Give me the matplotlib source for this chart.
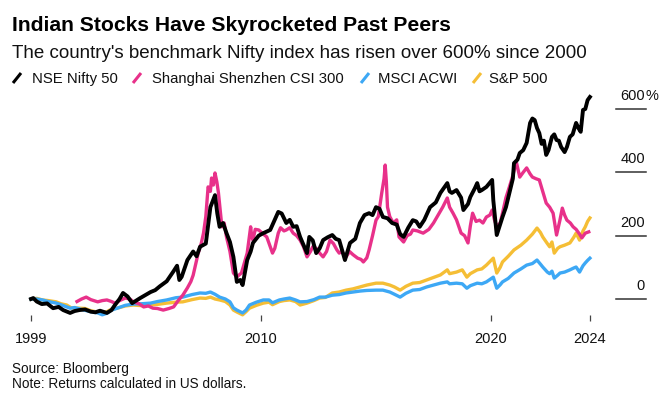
import matplotlib
matplotlib.use("Agg")
import matplotlib.pyplot as plt
from matplotlib.lines import Line2D
from matplotlib.transforms import blended_transform_factory

plt.rcParams['font.family'] = ['Liberation Sans', 'DejaVu Sans']

# ---------------- data (decimal years, % return since end-1999) ----------------
nifty_years = [2000.0, 2000.1, 2000.25, 2000.47, 2000.7, 2000.96, 2001.2, 2001.4, 2001.7, 2001.9,
               2002.1, 2002.35, 2002.6, 2002.8, 2003.0, 2003.3, 2003.5, 2003.65, 2003.85, 2004.0,
               2004.2, 2004.4, 2004.75, 2005.2, 2005.4, 2005.6, 2005.9, 2006.2, 2006.35, 2006.45,
               2006.55, 2006.8, 2007.05, 2007.2, 2007.35, 2007.6, 2007.8, 2008.0, 2008.1, 2008.2,
               2008.35, 2008.5, 2008.65, 2008.8, 2008.95, 2009.1, 2009.2, 2009.4, 2009.55, 2009.65,
               2009.9, 2010.1, 2010.4, 2010.75, 2010.9, 2011.1, 2011.25, 2011.4, 2011.55, 2011.7,
               2012.0, 2012.1, 2012.25, 2012.4, 2012.55, 2012.7, 2012.9, 2013.1, 2013.25, 2013.4,
               2013.65, 2013.87, 2014.1, 2014.3, 2014.5, 2014.7, 2014.85, 2015.0, 2015.15, 2015.3,
               2015.5, 2015.7, 2015.9, 2016.05, 2016.2, 2016.4, 2016.6, 2016.75, 2016.9, 2017.1,
               2017.35, 2017.6, 2017.8, 2018.1, 2018.2, 2018.3, 2018.5, 2018.7, 2018.8, 2019.0,
               2019.1, 2019.3, 2019.4, 2019.5, 2019.6, 2019.8, 2020.05, 2020.1, 2020.25, 2020.35,
               2020.5, 2020.65, 2020.8, 2020.95, 2021.0, 2021.15, 2021.25, 2021.4, 2021.55, 2021.7,
               2021.8, 2021.9, 2022.0, 2022.1, 2022.2, 2022.3, 2022.4, 2022.5, 2022.65, 2022.75,
               2022.85, 2022.95, 2023.05, 2023.2, 2023.3, 2023.43, 2023.55, 2023.7, 2023.8, 2023.9,
               2024.0, 2024.1, 2024.2, 2024.3]
nifty_values = [0, 3, -8, -16, -14, -29, -25, -35, -44, -38,
                -35, -33, -40, -42, -37, -44, -35, -19, 0, 19,
                8, -13, 3, 22, 28, 40, 56, 88, 105, 60,
                70, 123, 150, 135, 165, 175, 290, 328, 270, 228,
                240, 208, 180, 133, 54, 60, 44, 123, 150, 177,
                200, 208, 218, 275, 270, 240, 250, 228, 230, 196,
                145, 196, 185, 145, 160, 186, 195, 202, 190, 186,
                123, 177, 190, 240, 265, 271, 265, 290, 285, 259,
                255, 240, 235, 205, 196, 225, 249, 245, 228, 250,
                290, 305, 335, 366, 340, 335, 344, 320, 281, 300,
                322, 350, 366, 340, 344, 354, 376, 312, 202, 225,
                259, 290, 335, 380, 429, 440, 461, 470, 493, 556,
                570, 565, 540, 524, 490, 500, 455, 470, 512, 520,
                502, 500, 480, 464, 480, 512, 520, 556, 540, 528,
                597, 600, 628, 638]

csi_years = [2002.0, 2002.2, 2002.4, 2002.6, 2002.9, 2003.1, 2003.3, 2003.5, 2003.65, 2003.85,
             2004.1, 2004.3, 2004.45, 2004.7, 2004.9, 2005.1, 2005.3, 2005.5, 2005.75, 2006.0,
             2006.2, 2006.4, 2006.6, 2006.8, 2006.95, 2007.05, 2007.27, 2007.4, 2007.5, 2007.6,
             2007.7, 2007.8, 2007.85, 2007.93, 2008.0, 2008.08, 2008.15, 2008.3, 2008.4, 2008.5,
             2008.65, 2008.8, 2008.95, 2009.15, 2009.3, 2009.4, 2009.55, 2009.6, 2009.65, 2009.75,
             2009.9, 2010.1, 2010.25, 2010.4, 2010.5, 2010.6, 2010.75, 2010.85, 2011.0, 2011.1,
             2011.25, 2011.4, 2011.55, 2011.7, 2011.85, 2012.0, 2012.15, 2012.25, 2012.4, 2012.55,
             2012.7, 2012.85, 2013.0, 2013.15, 2013.3, 2013.4, 2013.5, 2013.7, 2013.85, 2014.0,
             2014.2, 2014.35, 2014.45, 2014.6, 2014.7, 2014.85, 2015.0, 2015.1, 2015.25, 2015.35,
             2015.4, 2015.45, 2015.5, 2015.6, 2015.75, 2015.9, 2016.0, 2016.2, 2016.35, 2016.5,
             2016.6, 2016.8, 2017.05, 2017.3, 2017.5, 2017.7, 2017.9, 2018.1, 2018.2, 2018.35,
             2018.5, 2018.7, 2018.85, 2019.0, 2019.1, 2019.2, 2019.35, 2019.5, 2019.65, 2019.8,
             2019.95, 2020.05, 2020.15, 2020.25, 2020.4, 2020.5, 2020.65, 2020.8, 2020.95, 2021.1,
             2021.25, 2021.4, 2021.55, 2021.7, 2021.8, 2021.95, 2022.1, 2022.25, 2022.4, 2022.55,
             2022.7, 2022.85, 2023.0, 2023.1, 2023.2, 2023.3, 2023.45, 2023.57, 2023.7, 2023.85,
             2023.95, 2024.1, 2024.25]
csi_values = [-8, 0, 6, -2, -9, -5, -3, -8, -13, -5,
              3, 0, -9, -15, -25, -22, -29, -30, -35, -30,
              -25, -5, 12, 35, 55, 75, 145, 175, 208, 260,
              354, 340, 382, 360, 398, 370, 335, 228, 240, 196,
              150, 82, 70, 82, 120, 145, 228, 195, 186, 220,
              218, 205, 196, 165, 145, 160, 208, 225, 215, 218,
              225, 208, 200, 186, 165, 133, 150, 165, 160, 145,
              133, 150, 186, 175, 155, 145, 150, 133, 150, 140,
              129, 125, 117, 130, 155, 200, 249, 260, 335, 380,
              423, 370, 290, 260, 240, 250, 196, 180, 200, 205,
              218, 215, 208, 220, 240, 265, 290, 319, 290, 271,
              250, 208, 200, 177, 230, 271, 245, 249, 240, 259,
              265, 281, 250, 228, 240, 271, 320, 354, 390, 433,
              385, 400, 414, 395, 385, 380, 376, 340, 303, 290,
              271, 202, 250, 287, 265, 249, 240, 228, 220, 205,
              193, 208, 212]

spx_years = [2000.0, 2000.25, 2000.5, 2000.75, 2001.1, 2001.3, 2001.55, 2001.75, 2002.1, 2002.35,
             2002.6, 2002.8, 2003.1, 2003.3, 2003.5, 2003.75, 2004.1, 2004.45, 2004.8, 2005.2,
             2005.5, 2005.9, 2006.3, 2006.6, 2007.0, 2007.35, 2007.6, 2007.8, 2008.0, 2008.2,
             2008.45, 2008.65, 2008.8, 2008.95, 2009.2, 2009.35, 2009.5, 2009.8, 2010.1, 2010.35,
             2010.5, 2010.8, 2011.0, 2011.25, 2011.5, 2011.7, 2012.0, 2012.3, 2012.55, 2012.8,
             2013.1, 2013.4, 2013.7, 2014.0, 2014.3, 2014.6, 2015.0, 2015.3, 2015.6, 2015.8,
             2016.05, 2016.3, 2016.6, 2016.9, 2017.2, 2017.5, 2017.8, 2018.1, 2018.2, 2018.5,
             2018.75, 2018.95, 2019.1, 2019.4, 2019.6, 2019.8, 2020.1, 2020.25, 2020.4, 2020.5,
             2020.75, 2021.0, 2021.3, 2021.55, 2021.8, 2022.0, 2022.15, 2022.25, 2022.45, 2022.55,
             2022.65, 2022.75, 2022.9, 2023.0, 2023.2, 2023.43, 2023.6, 2023.7, 2023.85, 2024.0,
             2024.1, 2024.2, 2024.3]
spx_values = [0, 2, -3, -5, -9, -15, -19, -28, -29, -30,
              -37, -40, -44, -40, -32, -29, -22, -19, -21, -19,
              -17, -13, -10, -9, -2, 3, 2, 6, 0, -3,
              -8, -19, -35, -41, -50, -40, -29, -20, -13, -10,
              -18, -8, -5, -3, -8, -19, -13, -5, 3, 5,
              19, 22, 28, 32, 38, 44, 50, 50, 44, 38,
              28, 40, 50, 52, 60, 68, 76, 92, 80, 85,
              92, 69, 80, 92, 95, 107, 129, 82, 100, 117,
              135, 155, 170, 186, 205, 224, 210, 196, 175, 165,
              180, 145, 160, 165, 170, 177, 195, 208, 186, 215,
              228, 245, 256]

acwi_years = [2000.0, 2000.25, 2000.5, 2000.75, 2001.1, 2001.3, 2001.7, 2001.9, 2002.3, 2002.6,
              2002.9, 2003.1, 2003.3, 2003.5, 2003.75, 2004.1, 2004.45, 2004.8, 2005.2, 2005.5,
              2005.9, 2006.3, 2006.6, 2007.0, 2007.35, 2007.6, 2007.8, 2008.0, 2008.2, 2008.45,
              2008.65, 2008.8, 2008.95, 2009.2, 2009.35, 2009.5, 2009.8, 2010.1, 2010.35, 2010.5,
              2010.8, 2011.0, 2011.25, 2011.5, 2011.7, 2012.0, 2012.3, 2012.55, 2012.8, 2013.1,
              2013.4, 2013.7, 2014.0, 2014.3, 2014.6, 2015.0, 2015.3, 2015.6, 2015.8, 2016.05,
              2016.3, 2016.6, 2016.9, 2017.2, 2017.5, 2017.8, 2018.1, 2018.2, 2018.5, 2018.75,
              2018.95, 2019.1, 2019.4, 2019.6, 2019.8, 2020.1, 2020.25, 2020.4, 2020.5, 2020.75,
              2021.0, 2021.3, 2021.55, 2021.8, 2022.0, 2022.15, 2022.25, 2022.45, 2022.55, 2022.65,
              2022.75, 2022.9, 2023.0, 2023.2, 2023.43, 2023.6, 2023.7, 2023.85, 2024.0, 2024.1,
              2024.2, 2024.3]
acwi_values = [0, 0, -3, -8, -13, -18, -29, -27, -35, -40,
               -44, -50, -45, -35, -29, -20, -16, -15, -13, -8,
               -3, 4, 6, 14, 19, 18, 22, 15, 6, 0,
               -9, -28, -35, -44, -35, -19, -10, -3, -3, -12,
               -3, 0, 3, -3, -9, -8, -2, 6, 6, 12,
               14, 19, 22, 25, 27, 28, 28, 22, 15, 6,
               18, 28, 30, 38, 44, 50, 54, 48, 50, 48,
               34, 42, 50, 48, 54, 69, 34, 45, 54, 65,
               82, 95, 107, 112, 123, 110, 101, 85, 80, 88,
               66, 75, 82, 85, 92, 98, 101, 85, 105, 114,
               122, 129]

series_names = ["NSE Nifty 50", "Shanghai Shenzhen CSI 300", "MSCI ACWI", "S&P 500"]
series_colors = ["#000000", "#E8318A", "#3DA8F5", "#F5BE35"]

xtick_positions = [2000.0, 2010.0, 2020.0, 2024.3]
xtick_labels = ["1999", "2010", "2020", "2024"]
ytick_values = [0, 200, 400, 600]
ytick_labels = ["0", "200", "400", "600"]

title = "Indian Stocks Have Skyrocketed Past Peers"
subtitle = "The country's benchmark Nifty index has risen over 600% since 2000"
footer = ["Source: Bloomberg", "Note: Returns calculated in US dollars."]

# ---------------- layout ----------------
W, H = 669, 408
fig = plt.figure(figsize=(W / 100, H / 100), dpi=100)
fig.patch.set_facecolor("white")

def fx(px):
    return px / W

def fy(py):
    return 1 - py / H

ax_l, ax_r, ax_t, ax_b = 20, 600, 88, 315
ax = fig.add_axes([fx(ax_l), fy(ax_b), (ax_r - ax_l) / W, (ax_b - ax_t) / H])
ax.set_facecolor("none")
pxyr = 23.0
x0_px = 31.0
ax.set_xlim(2000.0 - (x0_px - ax_l) / pxyr, 2000.0 + (ax_r - x0_px) / pxyr)
pxu = 63.33 / 200.0
zero_px = 299.0
ax.set_ylim((zero_px - ax_b) / pxu, (zero_px - ax_t) / pxu)

for s in ax.spines.values():
    s.set_visible(False)
ax.set_yticks([])
ax.set_xticks(xtick_positions, xtick_labels)
ax.tick_params(axis="x", length=4, width=0.9, color="#444444", pad=8,
               labelsize=10.5, labelcolor="#111111")

lw = 2.4
ax.plot(spx_years, spx_values, color=series_colors[3], lw=lw, clip_on=False, solid_joinstyle="round")
ax.plot(acwi_years, acwi_values, color=series_colors[2], lw=lw, clip_on=False, solid_joinstyle="round")
ax.plot(csi_years, csi_values, color=series_colors[1], lw=lw, clip_on=False, solid_joinstyle="round")
ax.plot(nifty_years, nifty_values, color=series_colors[0], lw=2.8, clip_on=False, solid_joinstyle="round")

# right-side y labels with short underlines
tr = blended_transform_factory(fig.transFigure, ax.transData)
for v, lab in zip(ytick_values, ytick_labels):
    fig.add_artist(Line2D([fx(616), fx(646)], [v, v], transform=tr, color="#333333", lw=1.1))
    ypx = zero_px - v * pxu
    fig.text(fx(645), fy(ypx - 9), lab, ha="right", va="baseline", fontsize=10.5, color="#111111")
    if v == max(ytick_values):
        fig.text(fx(645.5), fy(ypx - 9), "%", ha="left", va="baseline", fontsize=10.5, color="#111111")

renderer = fig.canvas.get_renderer()

def fit_text(x, y, s, target_w, size, **kw):
    t = fig.text(fx(x), fy(y), s, ha="left", va="baseline", fontsize=size, **kw)
    w = t.get_window_extent(renderer).width
    t.set_fontsize(size * target_w / w)
    return t

fit_text(12.5, 31, title, 440, 14, weight="bold", color="#000000")
fit_text(12.5, 57.5, subtitle, 577, 12, color="#111111")

# legend
leg_text_x = [32, 152, 378, 489]
leg_slash_x = [13, 133, 361, 473]
tmp = fit_text(leg_text_x[1], 83, series_names[1], 194, 10.5, color="#111111")
leg_size = tmp.get_fontsize()
tmp.remove()
for name, col, tx, sx in zip(series_names, series_colors, leg_text_x, leg_slash_x):
    fig.text(fx(tx), fy(83), name, ha="left", va="baseline", fontsize=leg_size, color="#111111")
    fig.add_artist(Line2D([fx(sx), fx(sx + 8)], [fy(83), fy(73)], transform=fig.transFigure,
                          color=col, lw=2.2, solid_capstyle="butt"))

# footer
tmp = fit_text(12, 388, footer[1], 234, 10, color="#111111")
fsz = tmp.get_fontsize()
fig.text(fx(12), fy(373), footer[0], ha="left", va="baseline", fontsize=fsz, color="#111111")

fig.savefig("out.png", dpi=100)
